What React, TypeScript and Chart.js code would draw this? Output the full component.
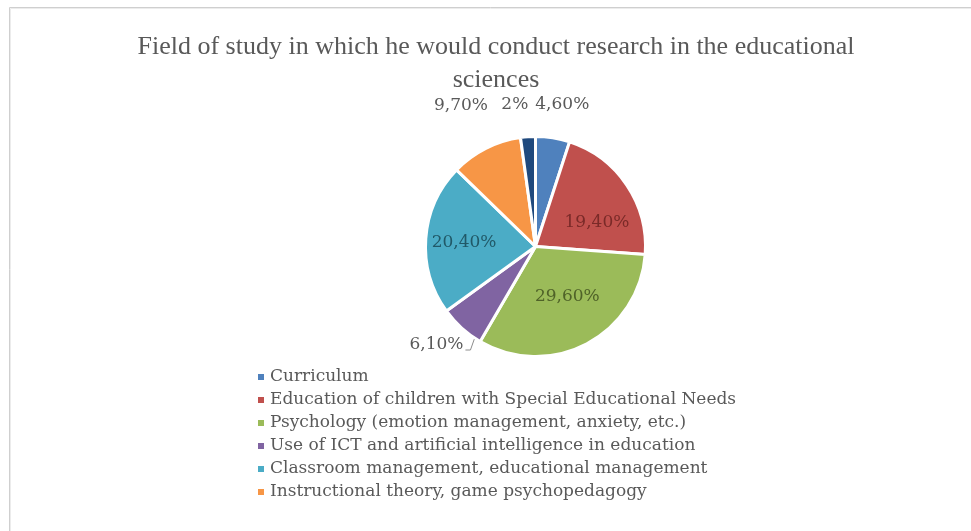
import React, { useEffect, useRef } from "react";
import { Chart, registerables } from "chart.js";

Chart.register(...registerables);

const TITLE_LINES = [
  "Field of study in which he would conduct research in the educational",
  "sciences",
];

const categories = [
  "Curriculum",
  "Education of children with Special Educational Needs",
  "Psychology (emotion management, anxiety, etc.)",
  "Use of ICT and artificial intelligence in education",
  "Classroom management, educational management",
  "Instructional theory, game psychopedagogy",
  "Other",
];

const values = [4.6, 19.4, 29.6, 6.1, 20.4, 9.7, 2];

const valueLabels = ["4,60%", "19,40%", "29,60%", "6,10%", "20,40%", "9,70%", "2%"];

const colors = ["#4F81BD", "#C0504D", "#9BBB59", "#8064A2", "#4BACC6", "#F79646", "#1F497D"];

const labelColors = ["#595959", "#7A2A28", "#4F6228", "#595959", "#215968", "#595959", "#595959"];

// label placement: [angle offset in degrees, distance as fraction of radius]
const labelPlacement: [number, number][] = [
  [1.7, 1.31],
  [12.5, 0.6],
  [-4.6, 0.54],
  [3, 1.27],
  [-1, 0.65],
  [-1, 1.45],
  [-4.4, 1.3],
];

const LEGEND_VISIBLE = 6;

const overlayPlugin = {
  id: "overlay",
  afterDraw(chart: any) {
    const ctx = chart.ctx as CanvasRenderingContext2D;
    ctx.save();

    // outer frame
    ctx.strokeStyle = "#cfcfcf";
    ctx.lineWidth = 1;
    ctx.beginPath();
    ctx.moveTo(9.5, 531);
    ctx.lineTo(9.5, 7.5);
    ctx.lineTo(971, 7.5);
    ctx.stroke();
    ctx.strokeStyle = "#ececec";
    ctx.beginPath();
    ctx.moveTo(10.5, 531);
    ctx.lineTo(10.5, 8.5);
    ctx.lineTo(971, 8.5);
    ctx.stroke();

    // title
    ctx.fillStyle = "#595959";
    ctx.font = '26px "Liberation Serif"';
    ctx.textAlign = "center";
    ctx.textBaseline = "middle";
    TITLE_LINES.forEach((t, i) => ctx.fillText(t, 496, 47 + i * 33));

    // data labels
    const meta = chart.getDatasetMeta(0);
    ctx.font = '17px "DejaVu Serif"';
    meta.data.forEach((arc: any, i: number) => {
      const p = arc.getProps(["x", "y", "startAngle", "endAngle", "outerRadius"], true);
      const [dA, f] = labelPlacement[i];
      const mid = (p.startAngle + p.endAngle) / 2 + (dA * Math.PI) / 180;
      const lx = p.x + Math.cos(mid) * p.outerRadius * f;
      const ly = p.y + Math.sin(mid) * p.outerRadius * f;
      ctx.fillStyle = labelColors[i];
      ctx.fillText(valueLabels[i], lx, ly);
      if (i === 3) {
        // leader line
        const w = ctx.measureText(valueLabels[i]).width;
        const a2 = p.startAngle + (p.endAngle - p.startAngle) * 0.1;
        const ex = p.x + Math.cos(a2) * p.outerRadius;
        const ey = p.y + Math.sin(a2) * p.outerRadius;
        ctx.strokeStyle = "#8c8c8c";
        ctx.lineWidth = 1;
        ctx.beginPath();
        ctx.moveTo(lx + w / 2 + 2, ly + 5);
        ctx.lineTo(lx + w / 2 + 7, ly + 5);
        ctx.lineTo(ex - 2, ey);
        ctx.stroke();
      }
    });

    // legend
    ctx.font = '17px "DejaVu Serif"';
    ctx.textAlign = "left";
    for (let i = 0; i < LEGEND_VISIBLE; i++) {
      const y = 377 + i * 23;
      ctx.fillStyle = colors[i];
      ctx.fillRect(258, y - 3, 6, 6);
      ctx.fillStyle = "#595959";
      ctx.fillText(categories[i], 270, y);
    }
    ctx.restore();
  },
};

export default function App() {
  const ref = useRef<HTMLCanvasElement | null>(null);
  useEffect(() => {
    if (!ref.current) return;
    const chart = new Chart(ref.current, {
      type: "pie",
      data: {
        labels: categories,
        datasets: [
          {
            data: values,
            backgroundColor: colors,
            borderColor: "#ffffff",
            borderWidth: 3,
          },
        ],
      },
      options: {
        responsive: false,
        animation: false,
        devicePixelRatio: 1,
        layout: { padding: { top: 135, bottom: 173, left: 100, right: 0 } },
        plugins: {
          legend: { display: false },
          title: { display: false },
          tooltip: { enabled: false },
        },
      },
      plugins: [overlayPlugin],
    });
    return () => chart.destroy();
  }, []);
  return (
    <div style={{ position: "fixed", left: 0, top: 0, width: 971, height: 531, background: "#fff" }}>
      <canvas ref={ref} width={971} height={531} />
    </div>
  );
}
